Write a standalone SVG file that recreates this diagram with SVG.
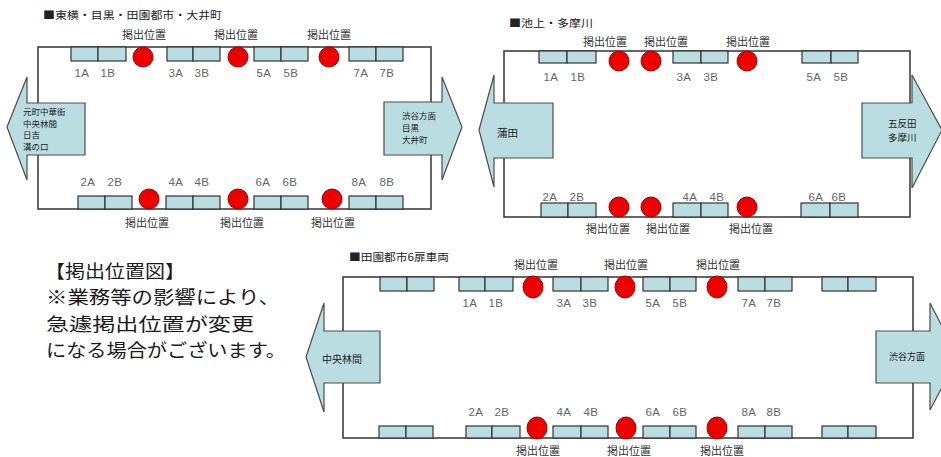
<svg xmlns="http://www.w3.org/2000/svg" width="941" height="457" viewBox="0 0 941 457">
<style>
.car{fill:none;stroke:#333;stroke-width:1.5}
.arrow{fill:#b9dde0;stroke:#4d4d4d;stroke-width:1.2}
.seat{fill:#b9dde0;stroke:#333;stroke-width:1.2}
.spot{fill:#ee0000;stroke:#a30000;stroke-width:1}
.jp{font-family:"Noto Sans CJK JP","Noto Sans",sans-serif}
.pos{font-size:11px;fill:#333;text-anchor:middle}
.ttl{font-size:10.5px;fill:#222}
.num{font-family:"Liberation Sans",Arial,sans-serif;font-size:11.5px;fill:#666;text-anchor:middle;letter-spacing:0.5px}
.dest{font-size:8.5px;fill:#222}
.note{font-size:18px;fill:#1a1a1a}
</style>
<rect width="941" height="457" fill="#fff"/>

<g id="diagram1">
  <text class="jp ttl" x="43" y="19" textLength="179" lengthAdjust="spacingAndGlyphs">■東横・目黒・田園都市・大井町</text>
  <rect class="car" x="38" y="47" width="393" height="162"/>
  <g id="d1-arrow-left">
    <polygon class="arrow" points="7,127 27,77 27,103 85,103 85,155 27,155 27,180"/>
    <text class="jp dest" x="23" y="115">元町中華街</text>
    <text class="jp dest" x="23" y="126.5">中央林間</text>
    <text class="jp dest" x="23" y="138">日吉</text>
    <text class="jp dest" x="23" y="149.5">溝の口</text>
  </g>
  <g id="d1-arrow-right">
    <polygon class="arrow" points="384,102 442,102 442,77 462,127 442,180 442,155 384,155"/>
    <text class="jp dest" x="402" y="118.5">渋谷方面</text>
    <text class="jp dest" x="402" y="130.5">目黒</text>
    <text class="jp dest" x="402" y="142.5">大井町</text>
  </g>
  <g id="d1-seats">
    <rect class="seat" x="71" y="47" width="27" height="14"/><rect class="seat" x="98" y="47" width="28" height="14"/>
    <rect class="seat" x="167" y="47" width="26" height="14"/><rect class="seat" x="193" y="47" width="27" height="14"/>
    <rect class="seat" x="254" y="47" width="27" height="14"/><rect class="seat" x="281" y="47" width="27" height="14"/>
    <rect class="seat" x="349" y="47" width="27" height="14"/><rect class="seat" x="376" y="47" width="27" height="14"/>
    <rect class="seat" x="78" y="196" width="27" height="13"/><rect class="seat" x="105" y="196" width="27" height="13"/>
    <rect class="seat" x="166" y="196" width="27" height="13"/><rect class="seat" x="193" y="196" width="27" height="13"/>
    <rect class="seat" x="254" y="196" width="27" height="13"/><rect class="seat" x="281" y="196" width="27" height="13"/>
    <rect class="seat" x="349" y="196" width="27" height="13"/><rect class="seat" x="376" y="196" width="27" height="13"/>
  </g>
  <g id="d1-spots">
    <circle class="spot" cx="143" cy="57" r="10"/><circle class="spot" cx="238" cy="57" r="10"/><circle class="spot" cx="329" cy="57" r="10"/>
    <circle class="spot" cx="149" cy="199" r="10"/><circle class="spot" cx="238" cy="199" r="10"/><circle class="spot" cx="332" cy="199" r="10"/>
  </g>
  <g id="d1-labels">
    <text class="jp pos" x="144" y="39">掲出位置</text><text class="jp pos" x="236" y="39">掲出位置</text><text class="jp pos" x="329" y="39">掲出位置</text>
    <text class="jp pos" x="147" y="227">掲出位置</text><text class="jp pos" x="242" y="227">掲出位置</text><text class="jp pos" x="333" y="227">掲出位置</text>
    <text class="num" x="82" y="77">1A</text><text class="num" x="108" y="77">1B</text>
    <text class="num" x="176" y="77">3A</text><text class="num" x="202" y="77">3B</text>
    <text class="num" x="264" y="77">5A</text><text class="num" x="291" y="77">5B</text>
    <text class="num" x="361" y="77">7A</text><text class="num" x="387" y="77">7B</text>
    <text class="num" x="88" y="186">2A</text><text class="num" x="115" y="186">2B</text>
    <text class="num" x="176" y="186">4A</text><text class="num" x="202" y="186">4B</text>
    <text class="num" x="263" y="186">6A</text><text class="num" x="290" y="186">6B</text>
    <text class="num" x="359" y="186">8A</text><text class="num" x="387" y="186">8B</text>
  </g>
</g>

<g id="diagram2">
  <text class="jp ttl" x="509" y="27" textLength="84" lengthAdjust="spacingAndGlyphs">■池上・多摩川</text>
  <rect class="car" x="504" y="51" width="406" height="166"/>
  <g id="d2-arrow-left">
    <polygon class="arrow" points="479,130 494,75 494,103 553,103 553,158 494,158 494,187"/>
    <text class="jp dest" x="497" y="137" style="font-size:10.5px">蒲田</text>
  </g>
  <g id="d2-arrow-right">
    <polygon class="arrow" points="862,103 912,103 912,75 942,130 912,188 912,158 862,158"/>
    <text class="jp dest" x="888" y="127" style="font-size:9.5px">五反田</text>
    <text class="jp dest" x="888" y="141" style="font-size:9.5px">多摩川</text>
  </g>
  <g id="d2-seats">
    <rect class="seat" x="539" y="51" width="28" height="12"/><rect class="seat" x="567" y="51" width="29" height="12"/>
    <rect class="seat" x="673" y="51" width="28" height="12"/><rect class="seat" x="701" y="51" width="27" height="12"/>
    <rect class="seat" x="802" y="51" width="29" height="12"/><rect class="seat" x="831" y="51" width="27" height="12"/>
    <rect class="seat" x="541" y="203" width="27" height="14"/><rect class="seat" x="568" y="203" width="28" height="14"/>
    <rect class="seat" x="673" y="203" width="28" height="14"/><rect class="seat" x="701" y="203" width="27" height="14"/>
    <rect class="seat" x="801" y="203" width="29" height="14"/><rect class="seat" x="830" y="203" width="28" height="14"/>
  </g>
  <g id="d2-spots">
    <circle class="spot" cx="619" cy="61" r="10"/><circle class="spot" cx="651" cy="61" r="10"/><circle class="spot" cx="747" cy="61" r="10"/>
    <circle class="spot" cx="619" cy="207" r="10"/><circle class="spot" cx="651" cy="207" r="10"/><circle class="spot" cx="747" cy="207" r="10"/>
  </g>
  <g id="d2-labels">
    <text class="jp pos" x="605" y="46">掲出位置</text><text class="jp pos" x="666" y="46">掲出位置</text><text class="jp pos" x="748" y="46">掲出位置</text>
    <text class="jp pos" x="608" y="233">掲出位置</text><text class="jp pos" x="668" y="233">掲出位置</text><text class="jp pos" x="751" y="233">掲出位置</text>
    <text class="num" x="551" y="81">1A</text><text class="num" x="578" y="81">1B</text>
    <text class="num" x="684" y="81">3A</text><text class="num" x="711" y="81">3B</text>
    <text class="num" x="814" y="81">5A</text><text class="num" x="841" y="81">5B</text>
    <text class="num" x="550" y="201">2A</text><text class="num" x="577" y="201">2B</text>
    <text class="num" x="690" y="201">4A</text><text class="num" x="717" y="201">4B</text>
    <text class="num" x="816" y="201">6A</text><text class="num" x="839" y="201">6B</text>
  </g>
</g>

<g id="note">
  <text class="jp note" x="45" y="278" textLength="140" lengthAdjust="spacingAndGlyphs">【掲出位置図】</text>
  <text class="jp note" x="46" y="304.3" textLength="234" lengthAdjust="spacingAndGlyphs">※業務等の影響により、</text>
  <text class="jp note" x="46" y="330.6" textLength="208" lengthAdjust="spacingAndGlyphs">急遽掲出位置が変更</text>
  <text class="jp note" x="46" y="357" textLength="240" lengthAdjust="spacingAndGlyphs">になる場合がございます。</text>
</g>

<g id="diagram3">
  <text class="jp ttl" x="349" y="261" textLength="100" lengthAdjust="spacingAndGlyphs">■田園都市6扉車両</text>
  <rect class="car" x="343" y="277" width="570" height="161"/>
  <g id="d3-arrow-left">
    <polygon class="arrow" points="306,357 324,303 324,331 380,331 380,383 324,383 324,412"/>
    <text class="jp dest" x="322" y="363" style="font-size:10px">中央林間</text>
  </g>
  <g id="d3-arrow-right">
    <polygon class="arrow" points="876,331 930,331 930,303 958,357 930,410 930,383 876,383"/>
    <text class="jp dest" x="889" y="360" style="font-size:9px">渋谷方面</text>
  </g>
  <g id="d3-seats">
    <rect class="seat" x="380" y="277" width="27" height="14"/><rect class="seat" x="407" y="277" width="27" height="14"/>
    <rect class="seat" x="459" y="277" width="26" height="14"/><rect class="seat" x="485" y="277" width="28" height="14"/>
    <rect class="seat" x="553" y="277" width="28" height="14"/><rect class="seat" x="581" y="277" width="27" height="14"/>
    <rect class="seat" x="643" y="277" width="27" height="14"/><rect class="seat" x="670" y="277" width="26" height="14"/>
    <rect class="seat" x="738" y="277" width="27" height="14"/><rect class="seat" x="765" y="277" width="27" height="14"/>
    <rect class="seat" x="822" y="277" width="26" height="14"/><rect class="seat" x="848" y="277" width="28" height="14"/>
    <rect class="seat" x="379" y="426" width="27" height="12"/><rect class="seat" x="406" y="426" width="27" height="12"/>
    <rect class="seat" x="466" y="426" width="26" height="12"/><rect class="seat" x="492" y="426" width="28" height="12"/>
    <rect class="seat" x="553" y="426" width="28" height="12"/><rect class="seat" x="581" y="426" width="27" height="12"/>
    <rect class="seat" x="643" y="426" width="27" height="12"/><rect class="seat" x="670" y="426" width="26" height="12"/>
    <rect class="seat" x="738" y="426" width="27" height="12"/><rect class="seat" x="765" y="426" width="27" height="12"/>
    <rect class="seat" x="822" y="426" width="26" height="12"/><rect class="seat" x="848" y="426" width="28" height="12"/>
  </g>
  <g id="d3-spots">
    <ellipse class="spot" cx="533" cy="287" rx="10" ry="11"/><ellipse class="spot" cx="625" cy="287" rx="10" ry="11"/><ellipse class="spot" cx="717" cy="287" rx="10" ry="11"/>
    <ellipse class="spot" cx="537" cy="428" rx="10" ry="11"/><ellipse class="spot" cx="626" cy="428" rx="10" ry="11"/><ellipse class="spot" cx="717" cy="428" rx="10" ry="11"/>
  </g>
  <g id="d3-labels">
    <text class="jp pos" x="536" y="269">掲出位置</text><text class="jp pos" x="626" y="269">掲出位置</text><text class="jp pos" x="718" y="269">掲出位置</text>
    <text class="jp pos" x="538" y="455">掲出位置</text><text class="jp pos" x="629" y="455">掲出位置</text><text class="jp pos" x="722" y="455">掲出位置</text>
    <text class="num" x="470" y="307">1A</text><text class="num" x="496" y="307">1B</text>
    <text class="num" x="564" y="307">3A</text><text class="num" x="590" y="307">3B</text>
    <text class="num" x="653" y="307">5A</text><text class="num" x="680" y="307">5B</text>
    <text class="num" x="749" y="307">7A</text><text class="num" x="774" y="307">7B</text>
    <text class="num" x="476" y="416">2A</text><text class="num" x="502" y="416">2B</text>
    <text class="num" x="564" y="416">4A</text><text class="num" x="591" y="416">4B</text>
    <text class="num" x="653" y="416">6A</text><text class="num" x="680" y="416">6B</text>
    <text class="num" x="749" y="416">8A</text><text class="num" x="774" y="416">8B</text>
  </g>
</g>
</svg>
